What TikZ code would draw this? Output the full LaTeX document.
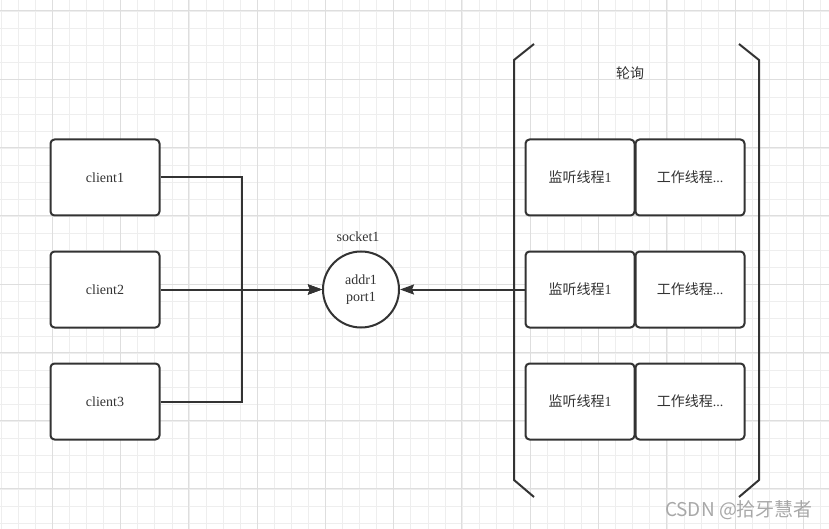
\documentclass[tikz,border=0pt]{standalone}
\usepackage{fontspec}
\setmainfont{Liberation Serif}
\newfontfamily\cjk{Noto Sans CJK SC}
\usetikzlibrary{arrows.meta, positioning}
\definecolor{mydark}{RGB}{51,51,51}
\definecolor{gridminor}{RGB}{238,238,238}
\definecolor{gridmajor}{RGB}{222,222,222}
\definecolor{wmgray}{RGB}{168,168,168}
\tikzset{
  box/.style={rectangle, draw=mydark, fill=white, text=mydark,
    minimum width=109pt, minimum height=76pt, inner sep=0pt,
    font=\fontsize{14}{17}\selectfont, rounded corners=4pt, line width=2pt},
  sockcircle/.style={circle, draw=mydark, fill=white, text=mydark,
    minimum size=76pt, inner sep=0pt, align=center,
    font=\fontsize{14}{17}\selectfont, line width=2pt},
  lbl/.style={font=\fontsize{14}{17}\selectfont, text=mydark},
  arrow/.style={-{Stealth[length=14pt, width=10pt, inset=2pt]}, line width=2pt, color=mydark},
  line/.style={line width=2pt, color=mydark},
  minorgrid/.style={gridminor, line width=1pt},
  majorgrid/.style={gridmajor, line width=1pt}
}

\begin{document}
\begin{tikzpicture}[x=1pt, y=-1pt]
  \useasboundingbox[fill=white] (0,0) rectangle (829,529);
  % grid
  \foreach \i in {0,...,48} {
    \draw[minorgrid] ({1.3+17.07*\i},0) -- ({1.3+17.07*\i},529);
  }
  \foreach \i in {0,...,30} {
    \draw[minorgrid] (0,{11.7+17.07*\i}) -- (829,{11.7+17.07*\i});
  }
  \foreach \i in {0,...,11} {
    \draw[majorgrid] ({52.3+68.27*\i},0) -- ({52.3+68.27*\i},529);
  }
  \foreach \i in {0,...,7} {
    \draw[majorgrid] (0,{11.0+68.27*\i}) -- (829,{11.0+68.27*\i});
  }
  % clients
  \node[box] (client1) at (105,177.5) {client1};
  \node[box] (client2) at (105,289.5) {client2};
  \node[box] (client3) at (105,401.5) {client3};
  % socket
  \node[sockcircle] (sock) at (361,289.5) {addr1\\port1};
  \node[lbl] (socklbl) at (358,237) {socket1};
  % polling threads
  \foreach \r/\y in {1/177.5, 2/289.5, 3/401.5} {
    \node[box] (listen\r) at (580,\y) {{\cjk 监听线程}1};
    \node[box] (work\r) at (690,\y) {{\cjk 工作线程}...};
  }
  \node[lbl] (poll) at (630,73) {\cjk 轮询};
  % bracket
  \draw[line] (534,44) -- (514,60) -- (514,480) -- (534,497);
  \draw[line] (739,44) -- (759,60) -- (759,480) -- (739,497);
  % connectors
  \draw[arrow] (client1.east) -- ++(81,0) |- (sock.west);
  \draw[arrow] (client3.east) -- ++(81,0) |- (sock.west);
  \draw[arrow] (client2.east) -- (sock.west);
  \draw[arrow] (listen2.west) -- (sock.east);
  % watermark
  \node[font=\cjk\fontsize{19}{22}\selectfont, text=wmgray] (wm) at (739,510) {CSDN @拾牙慧者};
\end{tikzpicture}
\end{document}
